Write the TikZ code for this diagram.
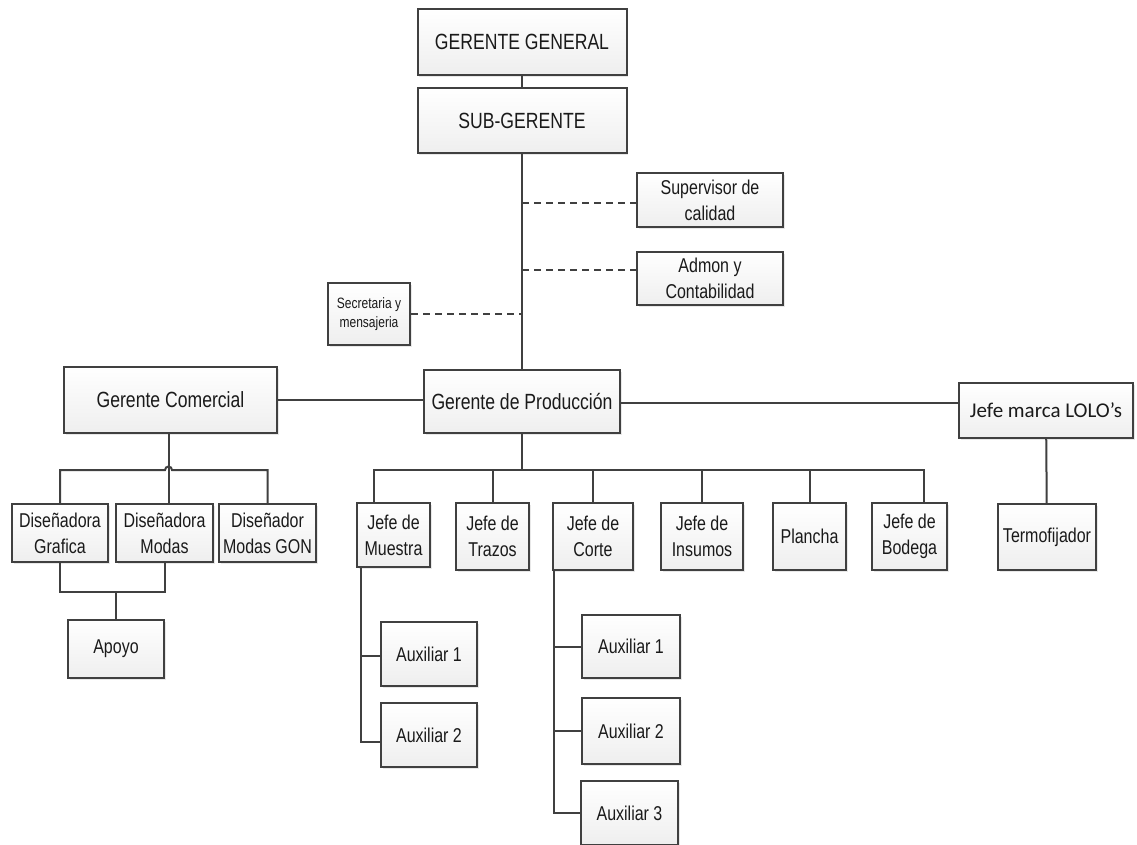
\documentclass[tikz,border=0pt]{standalone}
\usepackage{fontspec}
\setmainfont{Liberation Sans}[FakeStretch=0.80]
\newfontfamily\lolofont{Carlito}
\usetikzlibrary{shadows}
\definecolor{linea}{HTML}{404040}
\definecolor{texto}{HTML}{1A1A1A}
\tikzset{
  caja/.style={draw=linea, line width=2pt, top color=white, bottom color=gray!13,
    drop shadow={shadow xshift=1.5pt, shadow yshift=-1.5pt, opacity=.18},
    align=center, inner sep=0pt, text=texto, font=\fontsize{20}{26}\selectfont},
  grande/.style={font=\fontsize{22}{26}\selectfont},
  chica/.style={font=\fontsize{15}{19}\selectfont},
  enlace/.style={draw=linea, line width=2pt},
  punteado/.style={enlace, dash pattern=on 7pt off 5pt}
}
\begin{document}
\begin{tikzpicture}[x=1pt, y=-1pt]
    \path[use as bounding box, fill=white] (0,0) rectangle (1137,844);
    % direccion
    \node[caja, grande, minimum width=209, minimum height=66] (gg) at (522,42) {GERENTE GENERAL};
    \node[caja, grande, minimum width=209, minimum height=65] (sg) at (522,120.5) {SUB-GERENTE};
    \node[caja, minimum width=146, minimum height=54] (sup) at (710,200) {Supervisor de\\calidad};
    \node[caja, minimum width=146, minimum height=53] (adm) at (710,278.5) {Admon y\\Contabilidad};
    \node[caja, chica, minimum width=82, minimum height=62] (sec) at (369,314) {Secretaria y\\mensajeria};
    \node[caja, grande, minimum width=213, minimum height=66] (gc) at (170.5,400) {Gerente Comercial};
    \node[caja, grande, minimum width=196, minimum height=63] (gp) at (522,401.5) {Gerente de Producción};
    \node[caja, font=\lolofont\fontsize{21}{26}\selectfont, minimum width=174, minimum height=55] (lolo) at (1046,410.5) {Jefe marca LOLO’s};
    % comercial
    \node[caja, minimum width=96, minimum height=58] (dg) at (60,533) {Diseñadora\\Grafica};
    \node[caja, minimum width=97, minimum height=58] (dm) at (164.5,533) {Diseñadora\\Modas};
    \node[caja, minimum width=97, minimum height=58] (dgon) at (267.5,533) {Diseñador\\Modas GON};
    \node[caja, minimum width=96, minimum height=58] (ap) at (116,649) {Apoyo};
    % produccion
    \node[caja, minimum width=73, minimum height=64] (jm) at (393.5,535) {Jefe de\\Muestra};
    \node[caja, minimum width=73, minimum height=67] (jt) at (492.5,536.5) {Jefe de\\Trazos};
    \node[caja, minimum width=80, minimum height=67] (jc) at (593,536.5) {Jefe de\\Corte};
    \node[caja, minimum width=82, minimum height=67] (ji) at (702,536.5) {Jefe de\\Insumos};
    \node[caja, minimum width=73, minimum height=67] (pl) at (809.5,536.5) {Plancha};
    \node[caja, minimum width=75, minimum height=67] (jb) at (909.5,536.5) {Jefe de\\Bodega};
    \node[caja, minimum width=98, minimum height=66] (tf) at (1047,537) {Termofijador};
    \node[caja, minimum width=96, minimum height=64] (ma1) at (429,654) {Auxiliar 1};
    \node[caja, minimum width=96, minimum height=64] (ma2) at (429,735) {Auxiliar 2};
    \node[caja, minimum width=98, minimum height=63] (ca1) at (631,646.5) {Auxiliar 1};
    \node[caja, minimum width=98, minimum height=66] (ca2) at (631,731) {Auxiliar 2};
    \node[caja, minimum width=97, minimum height=64] (ca3) at (629.5,813) {Auxiliar 3};

    % lineas
    \coordinate (busc) at (0,470);
    \coordinate (busa) at (0,592);
    \coordinate (busp) at (0,470);
    \draw[enlace] (gg) -- (sg);
    \draw[enlace] (sg) -- (gp);
    \draw[punteado] (sg.south |- sup.west) ++(0,3) -- ([yshift=-3pt]sup.west);
    \draw[punteado] ([yshift=9pt]adm.west -| sg.south) -- ([yshift=9pt]adm.west);
    \draw[punteado] (sec.east) -- (sec.east -| sg.south);
    \draw[enlace] (gc.east) -- (gc.east -| gp.west);
    \draw[enlace] ([yshift=-1pt]gp.east) -- ([yshift=-1pt]gp.east -| lolo.west);
    \draw[enlace] (lolo) -- (tf);
    % comercial
    \draw[enlace] ([xshift=-2pt]gc.south) -- ([xshift=-2pt]gc.south |- dm.north);
    \draw[enlace] (dg.north) |- ([xshift=-5.5pt]gc.south |- busc) arc (180:0:3.5pt)
        -- (dgon.north |- busc) -- (dgon.north);
    \draw[enlace] (dg.south) -- (dg.south |- busa) -| (dm.south);
    \draw[enlace] (ap.north) -- (ap.north |- busa);
    % produccion
    \coordinate (em) at ([xshift=-20pt]jm.north);
    \coordinate (eb) at ([xshift=14pt]jb.north);
    \draw[enlace] (gp.south) -- (gp.south |- busp);
    \draw[enlace] (em) -- (em |- busp) -- (eb |- busp) -- (eb);
    \foreach \n in {jt,jc,ji,pl}{
    \draw[enlace] (\n.north) -- (\n.north |- busp);
    }
    \coordinate (vm) at ([xshift=5pt]jm.south west);
    \draw[enlace] (vm) |- ([yshift=-7pt]ma2.west);
    \draw[enlace] ([yshift=-2pt]ma1.west) -- ([yshift=-2pt]ma1.west -| vm);
    \coordinate (vc) at ([xshift=2pt]jc.south west);
    \draw[enlace] (vc) |- (ca3.west);
    \foreach \n in {ca1,ca2}{
    \draw[enlace] (\n.west) -- (\n.west -| vc);
    }
\end{tikzpicture}
\end{document}
